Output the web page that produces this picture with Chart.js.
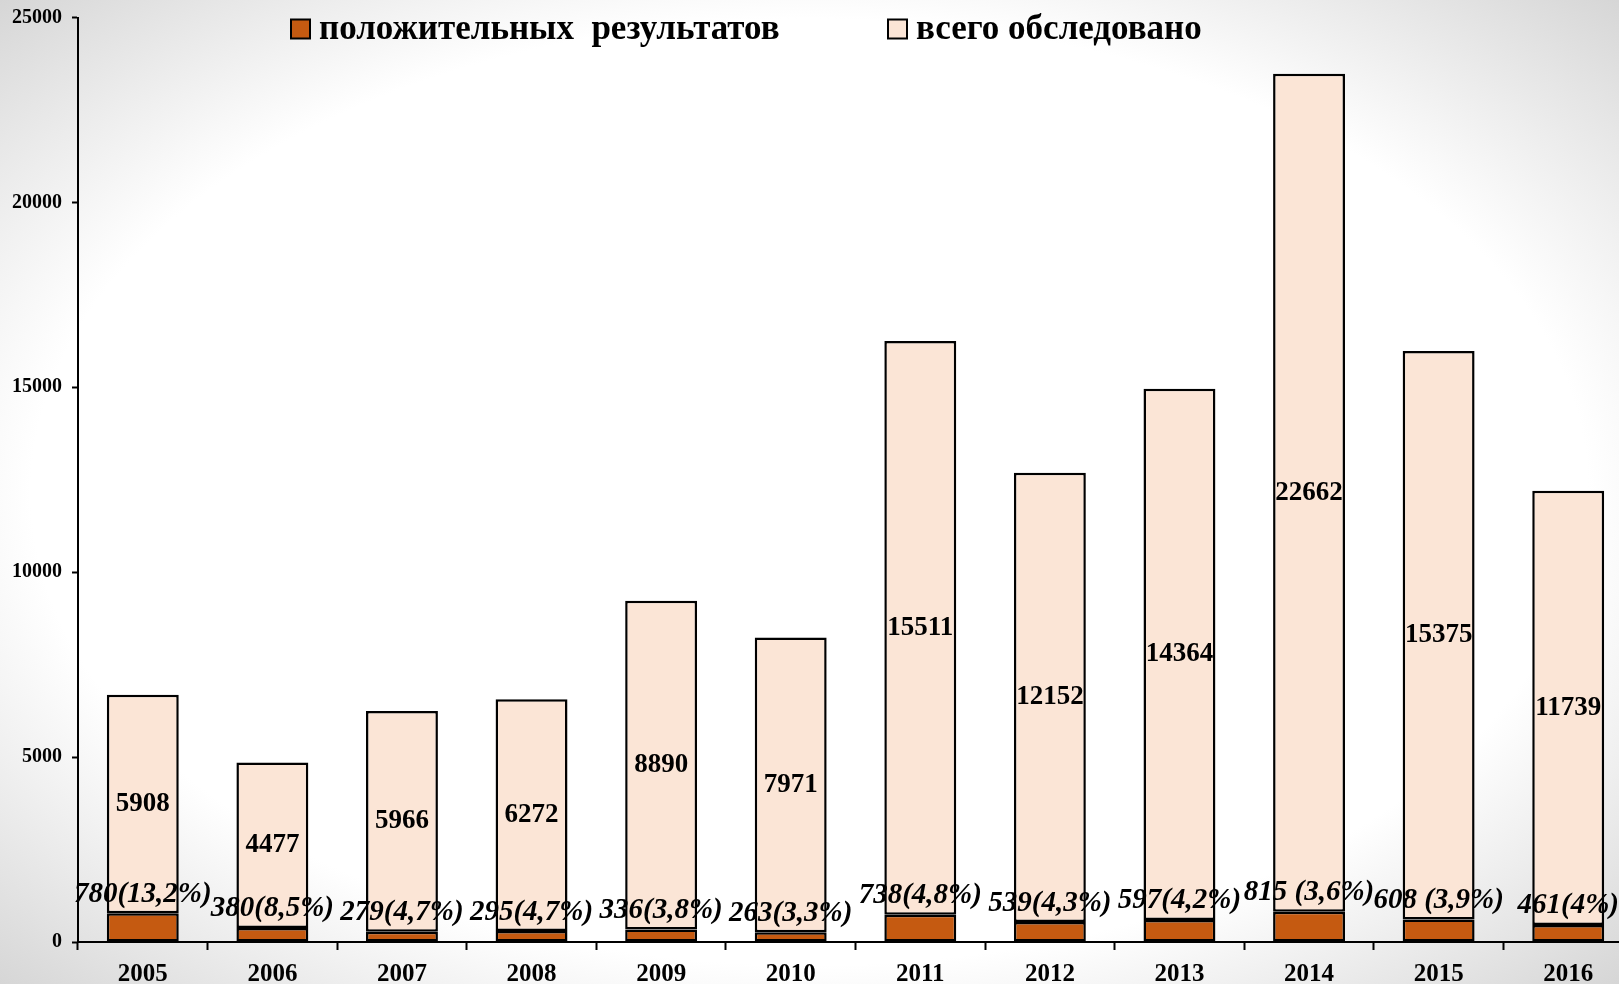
<!DOCTYPE html>
<html>
<head>
<meta charset="utf-8">
<script src="https://cdn.jsdelivr.net/npm/chart.js@4/dist/chart.umd.min.js"></script>
<style>
  html, body {
    margin: 0;
    padding: 0;
    overflow: hidden;
    width: 1619px;
    height: 984px;
    background: radial-gradient(ellipse farthest-corner at 50% 50%, #ffffff 68%, #d6d6d6 100%);
  }
  #wrap {
    position: absolute;
    left: 0;
    top: 0;
    width: 1633px;
    height: 984px;
  }
</style>
</head>
<body>
<div id="wrap"><canvas id="chart"></canvas></div>
<script>
// данные
const years = ['2005', '2006', '2007', '2008', '2009', '2010', '2011', '2012', '2013', '2014', '2015', '2016'];
const positive = [780, 380, 279, 295, 336, 263, 738, 539, 597, 815, 608, 461];
const examined = [5908, 4477, 5966, 6272, 8890, 7971, 15511, 12152, 14364, 22662, 15375, 11739];
const positiveLabels = ['780(13,2%)', '380(8,5%)', '279(4,7%)', '295(4,7%)', '336(3,8%)', '263(3,3%)',
  '738(4,8%)', '539(4,3%)', '597(4,2%)', '815 (3,6%)', '608 (3,9%)', '461(4%)'];
const seriesNames = ['положительных  результатов', 'всего обследовано'];

const serif = '"Liberation Serif", "Times New Roman", serif';
const brown = '#C55A11';
const peach = '#FBE5D6';

// подписи на столбиках
const barLabels = {
  id: 'barLabels',
  afterDatasetsDraw(chart) {
    const ctx = chart.ctx;
    ctx.save();
    ctx.fillStyle = '#000';
    ctx.textAlign = 'center';
    ctx.textBaseline = 'middle';

    const metaTotal = chart.getDatasetMeta(1);
    ctx.font = 'bold 27px ' + serif;
    metaTotal.data.forEach((bar, i) => {
      ctx.fillText(String(examined[i]), bar.x, (bar.y + bar.base) / 2);
    });

    const metaPos = chart.getDatasetMeta(0);
    ctx.font = 'italic bold 29px ' + serif;
    metaPos.data.forEach((bar, i) => {
      ctx.fillText(positiveLabels[i], bar.x, bar.y - 19);
    });
    ctx.restore();
  }
};

// легенда поверх области графика
const topLegend = {
  id: 'topLegend',
  afterDraw(chart) {
    const ctx = chart.ctx;
    const xs = [291, 888];
    const y = 29;
    const box = 19;
    ctx.save();
    ctx.font = 'bold 35px ' + serif;
    ctx.textBaseline = 'middle';
    ctx.textAlign = 'left';
    chart.data.datasets.forEach((ds, i) => {
      ctx.fillStyle = ds.backgroundColor;
      ctx.fillRect(xs[i], y - box / 2, box, box);
      ctx.lineWidth = 2;
      ctx.strokeStyle = '#000';
      ctx.strokeRect(xs[i], y - box / 2, box, box);
      ctx.fillStyle = '#000';
      ctx.fillText(ds.label, xs[i] + box + 9, y + 1);
    });
    ctx.restore();
  }
};

const ctx = document.querySelector('#chart').getContext('2d');
new Chart(ctx, {
  type: 'bar',
  data: {
    labels: years,
    datasets: [
      {
        label: seriesNames[0],
        data: positive,
        backgroundColor: brown,
        borderColor: '#000',
        borderWidth: 2.5,
        borderSkipped: false,
        barPercentage: 0.555,
        categoryPercentage: 1
      },
      {
        label: seriesNames[1],
        data: examined,
        backgroundColor: peach,
        borderColor: '#000',
        borderWidth: 2.5,
        borderSkipped: false,
        barPercentage: 0.555,
        categoryPercentage: 1
      }
    ]
  },
  options: {
    responsive: true,
    maintainAspectRatio: false,
    animation: false,
    layout: {
      padding: { top: 17.5, right: 0, bottom: 0, left: 0 }
    },
    scales: {
      x: {
        stacked: true,
        afterFit: (scale) => { scale.height = 42; },
        border: { color: '#000', width: 2 },
        grid: {
          drawOnChartArea: false,
          drawTicks: true,
          tickLength: 8,
          tickColor: '#000',
          tickWidth: 2
        },
        ticks: {
          color: '#000',
          padding: 10,
          font: { family: serif, size: 25, weight: 'bold' }
        }
      },
      y: {
        stacked: true,
        min: 0,
        max: 25000,
        afterFit: (scale) => {
          scale.width = 78;
          scale.paddingTop = 0;
          scale.paddingBottom = 0;
        },
        border: { color: '#000', width: 2 },
        grid: {
          drawOnChartArea: false,
          drawTicks: true,
          tickLength: 6,
          tickColor: '#000',
          tickWidth: 2
        },
        ticks: {
          stepSize: 5000,
          color: '#000',
          padding: 10,
          font: { family: serif, size: 20, weight: 'bold' },
          callback: (value) => String(value)
        }
      }
    },
    plugins: {
      legend: { display: false },
      tooltip: { enabled: false }
    }
  },
  plugins: [barLabels, topLegend]
});
</script>
</body>
</html>
